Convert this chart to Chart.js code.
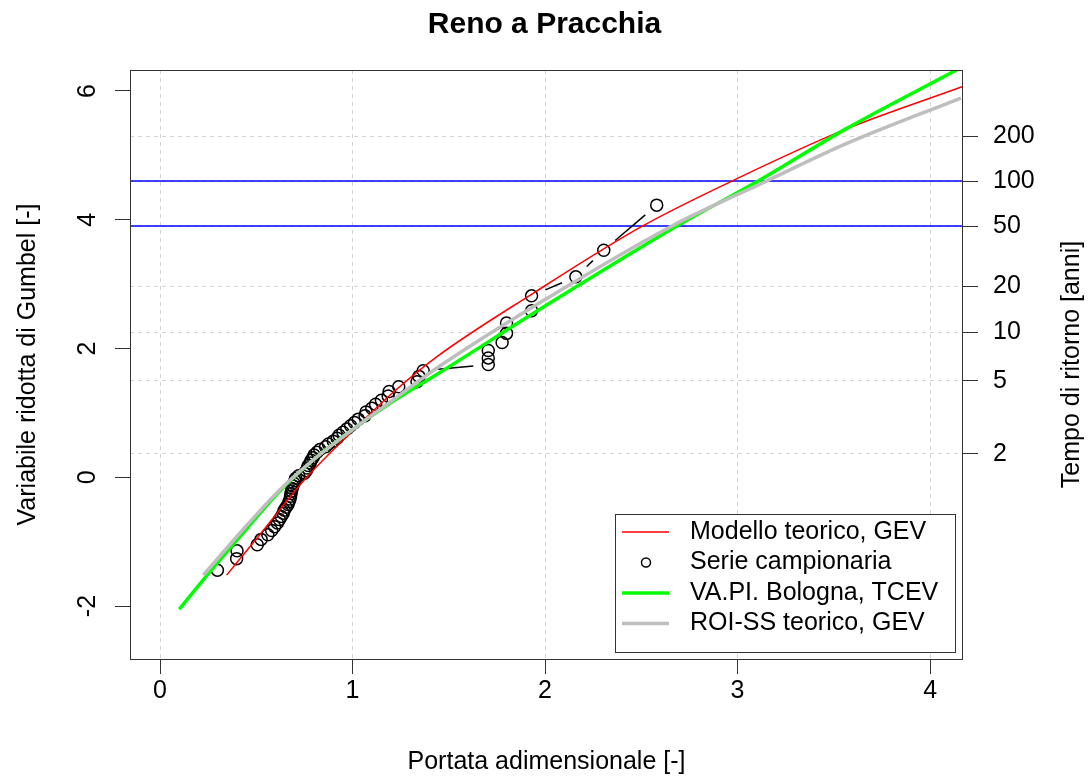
<!DOCTYPE html>
<html>
<head>
<meta charset="utf-8">
<title>Reno a Pracchia</title>
<script src="https://cdn.jsdelivr.net/npm/chart.js@4.4.1/dist/chart.umd.min.js"></script>
<style>
  html, body { margin: 0; padding: 0; background: #fff; }
  #wrap { width: 1089px; height: 778px; }
</style>
</head>
<body>
<div id="wrap"><canvas id="chart" width="1089" height="778"></canvas></div>
<script>
// Serie campionaria (portata adimensionale vs variabile ridotta di Gumbel)
const sampleX = [0.298, 0.398, 0.400, 0.505, 0.525, 0.560, 0.580, 0.595, 0.610, 0.620,
                 0.630, 0.640, 0.645, 0.655, 0.665, 0.670, 0.675, 0.678, 0.680, 0.683,
                 0.686, 0.690, 0.695, 0.700, 0.705, 0.720, 0.750, 0.760, 0.765, 0.770,
                 0.780, 0.785, 0.795, 0.800, 0.815, 0.830, 0.860, 0.875, 0.900, 0.920,
                 0.930, 0.950, 0.970, 0.990, 1.010, 1.030, 1.065, 1.070, 1.100, 1.120,
                 1.150, 1.185, 1.190, 1.240, 1.335, 1.345, 1.367, 1.705, 1.705, 1.705,
                 1.777, 1.800, 1.800, 1.930, 1.930, 2.160, 2.305, 2.580];
const sampleY = [-1.443, -1.264, -1.143, -1.047, -0.965, -0.893, -0.828, -0.768, -0.711, -0.658,
                 -0.608, -0.559, -0.512, -0.467, -0.423, -0.379, -0.337, -0.295, -0.254, -0.214,
                 -0.174, -0.134, -0.094, -0.055, -0.015, 0.024, 0.064, 0.103, 0.143, 0.183,
                 0.223, 0.263, 0.304, 0.346, 0.387, 0.430, 0.473, 0.517, 0.561, 0.607,
                 0.653, 0.700, 0.749, 0.799, 0.850, 0.903, 0.957, 1.014, 1.072, 1.133,
                 1.196, 1.263, 1.333, 1.406, 1.484, 1.567, 1.655, 1.751, 1.854, 1.968,
                 2.093, 2.235, 2.397, 2.587, 2.818, 3.113, 3.526, 4.227];

// Modello teorico, GEV
const gevX = [0.346, 0.50, 0.762, 1.00, 1.20, 1.437, 1.938, 2.505, 2.97, 3.556, 4.17];
const gevY = [-1.52, -0.96, 0.00, 0.72, 1.29, 1.87, 2.857, 3.90, 4.60, 5.40, 6.07];

// VA.PI. Bologna, TCEV
const tcevX = [0.10, 0.25, 0.45, 0.62, 0.80, 1.00, 1.20, 1.45, 2.00, 2.683, 3.107, 3.556, 4.14];
const tcevY = [-2.05, -1.50, -0.80, -0.22, 0.28, 0.74, 1.16, 1.62, 2.66, 3.90, 4.60, 5.40, 6.33];

// ROI-SS teorico, GEV
const roiX = [0.225, 0.45, 0.62, 0.80, 1.00, 1.20, 1.45, 2.00, 2.657, 3.15, 3.556, 4.16];
const roiY = [-1.52, -0.75, -0.20, 0.28, 0.74, 1.18, 1.72, 2.76, 3.90, 4.60, 5.17, 5.89];

// axes
const xTicks = [0, 1, 2, 3, 4];
const yTicks = [-2, 0, 2, 4, 6];
const returnPeriods = [2, 5, 10, 20, 50, 100, 200];
const refPeriods = [50, 100];
const xRange = [-0.156, 4.171];
const yRange = [-2.823, 6.326];

// Gumbel reduced variate for a return period
const gumbel = T => -Math.log(-Math.log(1 - 1 / T));

const pairs = (xs, ys) => xs.map((x, i) => ({ x, y: ys[i] }));

Chart.defaults.font.family = "'Liberation Sans', Arial, Helvetica, sans-serif";
Chart.defaults.font.size = 25;
Chart.defaults.color = '#000';

// blue return period lines
const refLines = {
  id: 'refLines',
  beforeDatasetsDraw(chart) {
    const { ctx, chartArea: a } = chart;
    const y = chart.scales.y;
    ctx.save();
    ctx.strokeStyle = '#0000ff';
    ctx.lineWidth = 1.5;
    refPeriods.forEach(T => {
      const py = y.getPixelForValue(gumbel(T));
      ctx.beginPath();
      ctx.moveTo(a.left, py);
      ctx.lineTo(a.right, py);
      ctx.stroke();
    });
    ctx.restore();
  }
};

// R type="b": lines between points, with a gap around each point
const gapLines = {
  id: 'gapLines',
  afterDatasetDraw(chart, args) {
    if (args.index !== 0) return;
    const pts = args.meta.data;
    const { ctx, chartArea: a } = chart;
    const gap = 15;
    ctx.save();
    ctx.beginPath();
    ctx.rect(a.left, a.top, a.right - a.left, a.bottom - a.top);
    ctx.clip();
    ctx.strokeStyle = '#000';
    ctx.lineWidth = 1.5;
    for (let i = 1; i < pts.length; i++) {
      const p = pts[i - 1], q = pts[i];
      const dx = q.x - p.x, dy = q.y - p.y;
      const d = Math.hypot(dx, dy);
      if (d <= 2 * gap) continue;
      const ux = dx / d, uy = dy / d;
      ctx.beginPath();
      ctx.moveTo(p.x + ux * gap, p.y + uy * gap);
      ctx.lineTo(q.x - ux * gap, q.y - uy * gap);
      ctx.stroke();
    }
    ctx.restore();
  }
};

// plot box, right axis title, legend
const frame = {
  id: 'frame',
  afterDraw(chart) {
    const { ctx, chartArea: a } = chart;
    ctx.save();
    ctx.strokeStyle = '#333';
    ctx.lineWidth = 1;
    ctx.strokeRect(a.left + 0.5, a.top + 0.5, a.right - a.left - 1, a.bottom - a.top);

    // right axis title
    ctx.translate(1079, (a.top + a.bottom) / 2);
    ctx.rotate(-Math.PI / 2);
    ctx.fillStyle = '#000';
    ctx.font = "25px 'Liberation Sans', Arial, sans-serif";
    ctx.textAlign = 'center';
    ctx.textBaseline = 'alphabetic';
    ctx.fillText('Tempo di ritorno [anni]', 0, 0);
    ctx.restore();

    // legend (bottom right, small inset)
    const right = a.right - 8, bottom = a.bottom - 7;
    const left = right - 340, top = bottom - 138;
    ctx.save();
    ctx.fillStyle = '#fff';
    ctx.fillRect(left, top, right - left, bottom - top);
    ctx.strokeStyle = '#333';
    ctx.lineWidth = 1;
    ctx.strokeRect(left + 0.5, top + 0.5, right - left, bottom - top);
    const ds = chart.data.datasets;
    const rows = [ds[1], ds[0], ds[2], ds[3]];
    ctx.font = "25px 'Liberation Sans', Arial, sans-serif";
    ctx.textBaseline = 'middle';
    rows.forEach((d, i) => {
      const cy = top + 18 + i * 30.5;
      if (d.showLine) {
        ctx.strokeStyle = d.borderColor;
        ctx.lineWidth = d.borderWidth;
        ctx.beginPath();
        ctx.moveTo(left + 7, cy);
        ctx.lineTo(left + 54, cy);
        ctx.stroke();
      } else {
        ctx.strokeStyle = d.pointBorderColor;
        ctx.lineWidth = d.pointBorderWidth;
        ctx.beginPath();
        ctx.arc(left + 31, cy, 4.5, 0, Math.PI * 2);
        ctx.stroke();
      }
      ctx.fillStyle = '#000';
      ctx.textAlign = 'left';
      ctx.fillText(d.label, left + 75, cy);
    });
    ctx.restore();
  }
};

new Chart(document.getElementById('chart'), {
  type: 'scatter',
  data: {
    datasets: [
      {
        label: 'Serie campionaria',
        data: pairs(sampleX, sampleY),
        showLine: false,
        pointRadius: 6,
        pointBorderWidth: 1.5,
        pointBorderColor: '#000',
        pointBackgroundColor: 'rgba(0,0,0,0)',
        order: 3
      },
      {
        label: 'Modello teorico, GEV',
        data: pairs(gevX, gevY),
        showLine: true,
        borderColor: '#ff0000',
        borderWidth: 1.5,
        pointRadius: 0,
        cubicInterpolationMode: 'monotone',
        order: 2
      },
      {
        label: 'VA.PI. Bologna, TCEV',
        data: pairs(tcevX, tcevY),
        showLine: true,
        borderColor: '#00ff00',
        borderWidth: 3.5,
        pointRadius: 0,
        cubicInterpolationMode: 'monotone',
        order: 1
      },
      {
        label: 'ROI-SS teorico, GEV',
        data: pairs(roiX, roiY),
        showLine: true,
        borderColor: '#bebebe',
        borderWidth: 3.5,
        pointRadius: 0,
        cubicInterpolationMode: 'monotone',
        order: 0
      }
    ]
  },
  options: {
    responsive: false,
    animation: false,
    devicePixelRatio: 1,
    events: [],
    layout: { padding: 0 },
    plugins: {
      legend: { display: false },
      tooltip: { enabled: false },
      title: {
        display: true,
        text: 'Reno a Pracchia',
        color: '#000',
        font: { size: 30, weight: 'bold' },
        padding: { top: 7, bottom: 27 }
      }
    },
    scales: {
      x: {
        type: 'linear',
        position: 'bottom',
        min: xRange[0],
        max: xRange[1],
        afterBuildTicks: s => { s.ticks = xTicks.map(v => ({ value: v })); },
        afterFit: s => { s.height = 119; },
        grid: { color: '#d3d3d3', lineWidth: 1, tickColor: '#333', tickLength: 15, tickWidth: 1 },
        border: { display: false, dash: [4, 4] },
        ticks: { padding: 2, maxRotation: 0, autoSkip: false, callback: v => String(v) },
        title: { display: true, text: 'Portata adimensionale [-]', padding: { top: 0, bottom: 1 } }
      },
      y: {
        type: 'linear',
        position: 'left',
        min: yRange[0],
        max: yRange[1],
        afterBuildTicks: s => { s.ticks = yTicks.map(v => ({ value: v })); },
        afterFit: s => { s.width = 130; },
        grid: { drawOnChartArea: false, tickColor: '#333', tickLength: 15, tickWidth: 1 },
        border: { display: false },
        ticks: { padding: 16, minRotation: 90, maxRotation: 90, crossAlign: 'center', callback: v => String(v) },
        title: { display: true, text: 'Variabile ridotta di Gumbel [-]', padding: { top: 13, bottom: 0 } }
      },
      y2: {
        type: 'linear',
        position: 'right',
        min: yRange[0],
        max: yRange[1],
        afterBuildTicks: s => { s.ticks = returnPeriods.map(T => ({ value: gumbel(T) })); },
        afterFit: s => { s.width = 126; },
        grid: { color: '#d3d3d3', lineWidth: 1, tickColor: '#333', tickLength: 15, tickWidth: 1 },
        border: { display: false, dash: [4, 4] },
        ticks: { padding: 15, callback: (v, i) => String(returnPeriods[i]) }
      }
    }
  },
  plugins: [refLines, gapLines, frame]
});
</script>
</body>
</html>
